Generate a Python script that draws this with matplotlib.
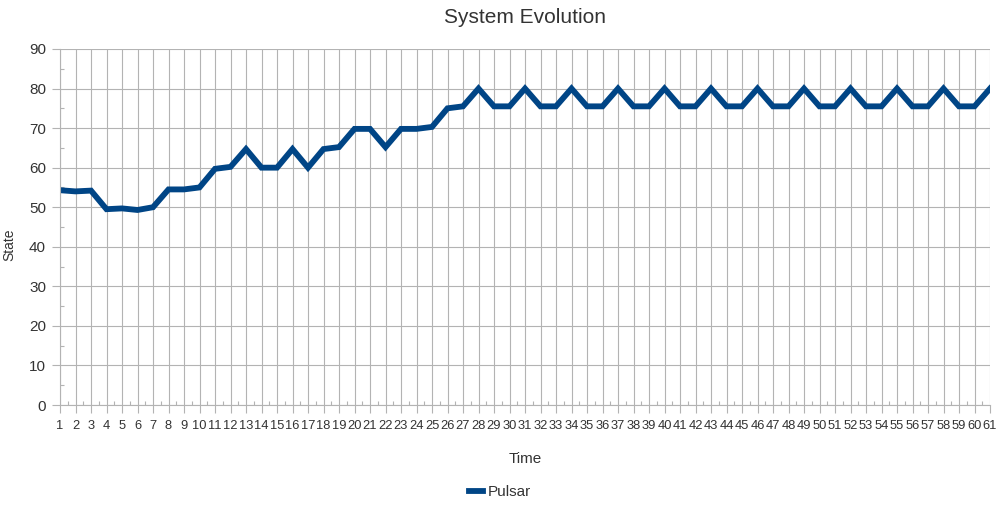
import matplotlib
matplotlib.use("Agg")
import matplotlib.pyplot as plt
from matplotlib.ticker import MultipleLocator

plt.rcParams["font.family"] = ["Liberation Sans Narrow", "Liberation Sans", "DejaVu Sans"]

time = list(range(1, 62))
pulsar = [
    54.3, 54.0, 54.2, 49.5, 49.7, 49.3, 50.0, 54.5, 54.5, 55.0,
    59.7, 60.2, 64.7, 60.0, 60.0, 64.7, 60.0, 64.7, 65.2, 69.8,
    69.8, 65.2, 69.8, 69.8, 70.3, 75.0, 75.5, 80.0, 75.5, 75.5,
    80.0, 75.5, 75.5, 80.0, 75.5, 75.5, 80.0, 75.5, 75.5, 80.0,
    75.5, 75.5, 80.0, 75.5, 75.5, 80.0, 75.5, 75.5, 80.0, 75.5,
    75.5, 80.0, 75.5, 75.5, 80.0, 75.5, 75.5, 80.0, 75.5, 75.5,
    80.0,
]
series_name = "Pulsar"

text_color = "#333333"
grid_color = "#b3b3b3"

fig = plt.figure(figsize=(10, 5.05), dpi=100)
ax = fig.add_axes([0.06, 0.198, 0.93, 0.705])

ax.plot(time, pulsar, color="#004586", linewidth=4.2, solid_joinstyle="miter",
        label=series_name)

ax.set_xlim(1, 61)
ax.set_ylim(0, 90)
ax.set_xticks(time)
ax.xaxis.set_minor_locator(MultipleLocator(0.5))
ax.yaxis.set_major_locator(MultipleLocator(10))
ax.yaxis.set_minor_locator(MultipleLocator(5))

ax.grid(True, which="major", color=grid_color, linewidth=0.8)
ax.set_axisbelow(True)
for side in ["top", "right"]:
    ax.spines[side].set_visible(False)
for side in ["left", "bottom"]:
    ax.spines[side].set_color(grid_color)
    ax.spines[side].set_linewidth(0.8)

ax.tick_params(which="major", direction="out", length=6, width=0.8, color=grid_color,
               labelsize=11, labelcolor=text_color, pad=4)
ax.tick_params(axis="x", which="major", labelsize=9.3, pad=5)
ax.tick_params(which="minor", direction="in", length=3, width=0.8, color=grid_color)

ax.set_title("System Evolution", fontsize=15, color=text_color, pad=19)
ax.set_xlabel("Time", fontsize=11, color=text_color, labelpad=14)
ax.set_ylabel("State", fontsize=10, color=text_color)
ax.yaxis.set_label_coords(-0.047, 0.45)

fig.legend(loc="center", bbox_to_anchor=(0.5, 0.026), frameon=False, fontsize=11,
           handlelength=0.9, handletextpad=0.3, labelcolor=text_color,
           borderaxespad=0, borderpad=0)

fig.savefig("out.png", dpi=100)
